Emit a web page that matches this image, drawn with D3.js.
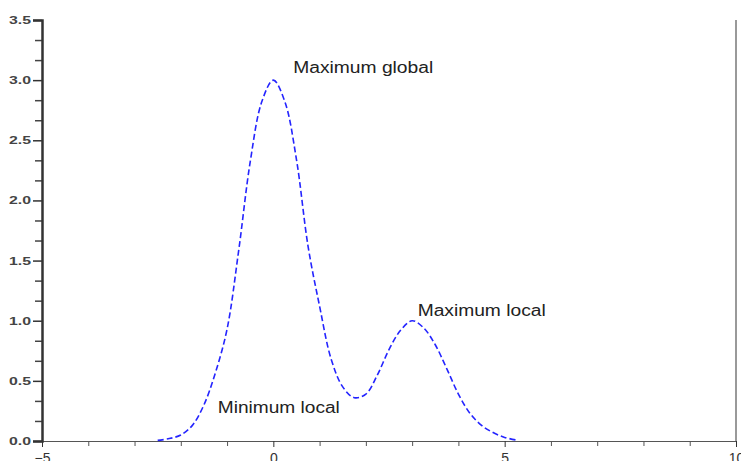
<!DOCTYPE html>
<html>
<head>
<meta charset="utf-8">
<script src="https://cdn.jsdelivr.net/npm/d3@7"></script>
<style>
  body{ margin: 0; background: #fff; }
  svg{ display: block; font-family: "Liberation Sans", Arial, sans-serif; }
</style>
</head>
<body>
<div id="chart"></div>
<script>

// Values.
const x_values = [ -2.5, -2.25, -2.0, -1.75, -1.5, -1.25, -1.0, -0.75, -0.5, -0.25, 0.0,
                   0.25, 0.5, 0.75, 1.0, 1.25, 1.5, 1.75, 2.0, 2.25, 2.5, 2.75, 3.0,
                   3.25, 3.5, 3.75, 4.0, 4.25, 4.5, 4.75, 5.0, 5.25 ];
const y_values = [ 0.005, 0.02, 0.05, 0.13, 0.30, 0.57, 0.93, 1.58, 2.32, 2.82, 3.0,
                   2.82, 2.34, 1.62, 1.12, 0.68, 0.45, 0.36, 0.39, 0.55, 0.76, 0.92, 1.0,
                   0.94, 0.80, 0.60, 0.39, 0.23, 0.13, 0.07, 0.03, 0.008 ];

const x_major_ticks = [ -5, 0, 5, 10 ];
const x_minor_ticks = [ -4, -3, -2, -1, 1, 2, 3, 4, 6, 7, 8, 9 ];
const y_major_ticks = [ 0.0, 0.5, 1.0, 1.5, 2.0, 2.5, 3.0, 3.5 ];

// Annotation labels and the points they sit at (data coords).
const label_texts = [ 'Maximum global', 'Maximum local', 'Minimum local' ];
const label_x = [ 0.43, 3.12, -1.2 ];
const label_y = [ 3.06, 1.04, 0.235 ];

const settings = {
  width: 741,
  height: 461,
  margin: { left: 42, right: 5, top: 20, bottom: 20 },
  line_color: '#2424ff',
  text_color: '#222',
  axis_color: '#555'
};

const plot_width = settings.width - settings.margin.left - settings.margin.right;
const plot_height = settings.height - settings.margin.top - settings.margin.bottom;

const svg = d3.select( '#chart' )
  .append( 'svg' )
    .attr( 'width', settings.width )
    .attr( 'height', settings.height );

const g = svg.append( 'g' )
  .attr( 'transform', 'translate(' + settings.margin.left + ',' + settings.margin.top + ')' );

const x_scale = d3.scaleLinear().domain( [ -5, 10 ] ).range( [ 0, plot_width ] );
const y_scale = d3.scaleLinear().domain( [ 0, 3.5 ] ).range( [ plot_height, 0 ] );

// Right frame line.
g.append( 'line' )
  .attr( 'x1', plot_width ).attr( 'x2', plot_width )
  .attr( 'y1', 0 ).attr( 'y2', plot_height )
  .attr( 'stroke', '#777' )
  .attr( 'stroke-width', 1.5 );

// X axis: minor ticks first, then major ticks with labels.
const x_minor = g.append( 'g' )
  .attr( 'transform', 'translate(0,' + plot_height + ')' )
  .call( d3.axisBottom( x_scale ).tickValues( x_minor_ticks ).tickSize( 5 ).tickFormat( '' ) );
x_minor.select( '.domain' ).attr( 'stroke', settings.axis_color );
x_minor.selectAll( '.tick line' ).attr( 'stroke', settings.axis_color );

// The labels are cut by the bottom edge, as in the original.
const x_major = g.append( 'g' )
  .attr( 'transform', 'translate(0,' + plot_height + ')' )
  .call( d3.axisBottom( x_scale ).tickValues( x_major_ticks ).tickSize( 6 ).tickPadding( 6 ).tickFormat( d3.format( 'd' ) ) );
x_major.select( '.domain' ).remove();
x_major.selectAll( '.tick line' ).attr( 'stroke', '#333' );
x_major.selectAll( '.tick text' )
  .attr( 'fill', '#333' )
  .style( 'font-size', '14px' );

// Y axis: minor ticks every 1/6, then major ticks.
const y_minor_ticks = d3.range( 0, 3.5, 0.5 / 3 ).filter( ( d, i ) => i % 3 != 0 );
const y_minor = g.append( 'g' )
  .call( d3.axisLeft( y_scale ).tickValues( y_minor_ticks ).tickSize( 7 ).tickFormat( '' ) );
y_minor.select( '.domain' ).remove();
y_minor.selectAll( '.tick line' ).attr( 'stroke', '#444' ).attr( 'stroke-width', 1.5 );

const y_major = g.append( 'g' )
  .call( d3.axisLeft( y_scale ).tickValues( y_major_ticks ).tickSize( 9 ).tickPadding( 2 ).tickFormat( d3.format( '.1f' ) ) );
y_major.select( '.domain' )
  .attr( 'stroke', '#333' )
  .attr( 'stroke-width', 2.5 );
y_major.selectAll( '.tick line' ).attr( 'stroke', '#333' ).attr( 'stroke-width', 1.5 );
y_major.selectAll( '.tick text' )
  .attr( 'fill', '#444' )
  .attr( 'textLength', 22 )
  .attr( 'lengthAdjust', 'spacingAndGlyphs' )
  .style( 'font-size', '11px' )
  .style( 'font-weight', 'bold' );

// The dashed curve.
const points = x_values.map( ( x, i ) => [ x, y_values[ i ] ] );
const line = d3.line()
  .x( d => x_scale( d[0] ) )
  .y( d => y_scale( d[1] ) )
  .curve( d3.curveCatmullRom );

g.append( 'path' )
  .datum( points )
  .attr( 'd', line )
  .attr( 'fill', 'none' )
  .attr( 'stroke', settings.line_color )
  .attr( 'stroke-width', 1.6 )
  .attr( 'stroke-dasharray', '6,3' );

// Annotations, stretched a bit wider like the original.
const label_widths = [ 140, 128, 122 ];
label_texts.forEach( ( t, i ) => {
  g.append( 'text' )
    .attr( 'x', x_scale( label_x[ i ] ) )
    .attr( 'y', y_scale( label_y[ i ] ) )
    .attr( 'fill', settings.text_color )
    .attr( 'textLength', label_widths[ i ] )
    .attr( 'lengthAdjust', 'spacingAndGlyphs' )
    .style( 'font-size', '16px' )
    .text( t );
});

</script>
</body>
</html>
